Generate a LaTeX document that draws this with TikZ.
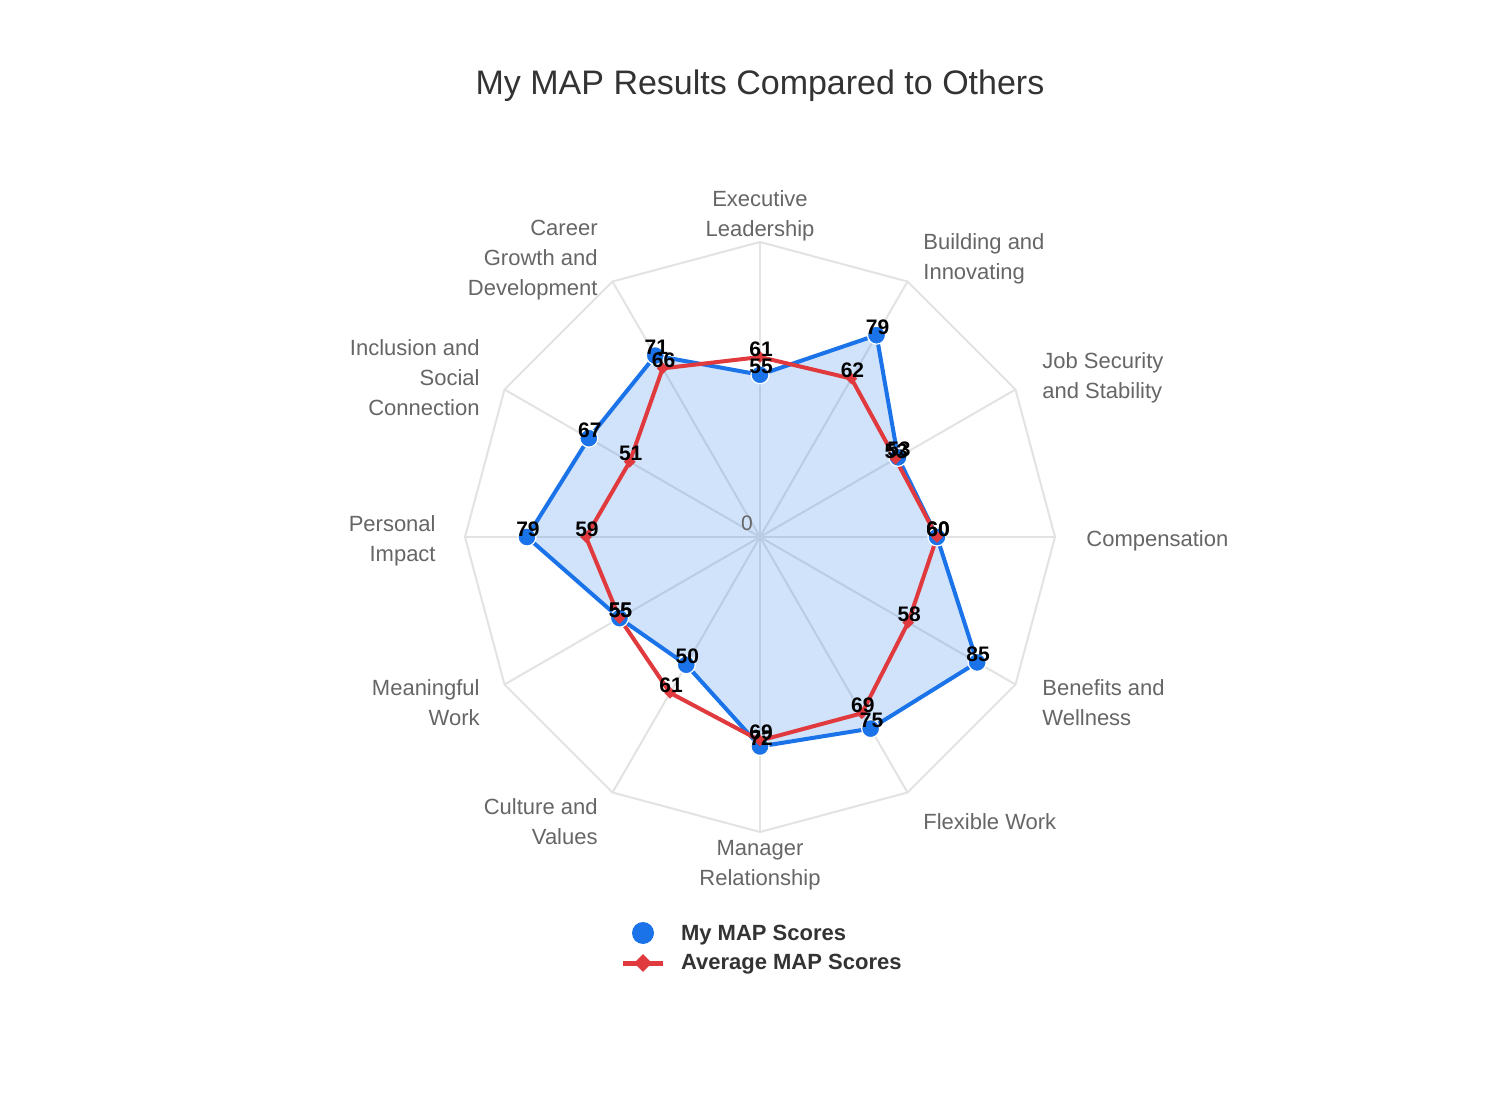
\documentclass[tikz,border=0pt]{standalone}
\usepackage{fontspec}
\setmainfont{Liberation Sans}
\usetikzlibrary{calc,positioning,shapes.geometric}
\definecolor{myblue}{HTML}{1A73E8}
\definecolor{myred}{HTML}{E03A3E}
\definecolor{gridgray}{HTML}{E3E3E3}
\definecolor{labgray}{HTML}{666666}
\tikzset{
  axislab/.style={font=\fontsize{11}{15}\selectfont, text=labgray, inner sep=0pt, align=#1},
  val/.style={font=\fontsize{10.5}{10}\selectfont\bfseries, inner sep=0pt},
  mydot/.style={circle, fill=myblue, draw=white, line width=0.6pt, minimum size=9pt, inner sep=0pt},
  avgdot/.style={diamond, fill=myred, minimum size=6pt, inner sep=0pt}
}
\begin{document}
\begin{tikzpicture}[x=0.5pt,y=0.5pt]
\useasboundingbox (0,-1118) rectangle (1512,0);
\fill[white] (0,-1118) rectangle (1512,0);
\node[font=\fontsize{17}{17}\selectfont, text=black!80] (title) at (760,-86) {My MAP Results Compared to Others};
\coordinate (c) at (760,-537);
% grid
\draw[gridgray, line width=1pt] ($(c)+(90:295)$) \foreach \k in {1,...,11}{ -- ($(c)+(90-30*\k:295)$)} -- cycle;
\foreach \k in {0,...,11}
  \draw[gridgray, line width=1pt] (c) -- ($(c)+(90-30*\k:295)$);
% my scores
\foreach \k/\m in {0/55,1/79,2/54,3/60,4/85,5/75,6/71,7/50,8/55,9/79,10/67,11/71}
  \coordinate (m\k) at ($(c)+(90-30*\k:2.95*\m)$);
\foreach \k/\a in {0/61,1/62,2/53,3/60,4/58,5/69,6/69,7/61,8/55,9/59,10/51,11/66}
  \coordinate (a\k) at ($(c)+(90-30*\k:2.95*\a)$);
\fill[myblue, opacity=0.2] (m0) \foreach \k in {1,...,11}{ -- (m\k)} -- cycle;
\node[text=labgray, font=\fontsize{10.5}{10}\selectfont] (zero) at (747,-523) {0};
\draw[myblue, line width=2pt, line join=round] (m0) \foreach \k in {1,...,11}{ -- (m\k)} -- cycle;
\draw[myred, line width=2pt, line join=round] (a0) \foreach \k in {1,...,11}{ -- (a\k)} -- cycle;
\foreach \k in {0,...,11} \node[mydot] (md\k) at (m\k) {};
\foreach \k in {0,...,11} \node[avgdot] (ad\k) at (a\k) {};
% values
\foreach \k/\m in {0/55,1/79,2/53,3/60,4/85,5/75,6/72,7/50,8/55,9/79,10/67,11/71}
  \node[val] (mv\k) at ($(m\k)+(1,8)$) {\m};
\foreach \k/\a in {0/61,1/62,2/53,3/60,4/58,5/69,6/69,7/61,8/55,9/59,10/51,11/66}
  \node[val] (av\k) at ($(a\k)+(1,8)$) {\a};
% axis labels
\node[axislab=center] (l0) at (760,-216) {Executive\\Leadership};
\node[axislab=left, anchor=west] (l1) at (923,-259) {Building and\\Innovating};
\node[axislab=left, anchor=west] (l2) at (1042,-378) {Job Security\\and Stability};
\node[axislab=left, anchor=west] (l3) at (1086,-541) {Compensation};
\node[axislab=left, anchor=west] (l4) at (1042,-703) {Benefits and\\Wellness};
\node[axislab=left, anchor=west] (l5) at (923,-822) {Flexible Work};
\node[axislab=center] (l6) at (760,-865) {Manager\\Relationship};
\node[axislab=right, anchor=east] (l7) at (598,-822) {Culture and\\Values};
\node[axislab=right, anchor=east] (l8) at (480,-703) {Meaningful\\Work};
\node[axislab=right, anchor=east] (l9) at (436,-541) {Personal\\Impact};
\node[axislab=right, anchor=east] (l10) at (480,-378) {Inclusion and\\Social\\Connection};
\node[axislab=right, anchor=east] (l11) at (598,-260) {Career\\Growth and\\Development};
% legend
\node[circle, fill=myblue, minimum size=11pt, inner sep=0pt] (leg1) at (643,-933) {};
\node[anchor=west, font=\fontsize{11}{11}\selectfont\bfseries, text=black!80] (legt1) at (674,-935) {My MAP Scores};
\coordinate (lr1) at (623,-963);
\coordinate (lr2) at (663,-963);
\draw[myred, line width=2.5pt] (lr1) -- (lr2);
\node[diamond, fill=myred, minimum size=9pt, inner sep=0pt] (leg2) at (643,-963) {};
\node[anchor=west, font=\fontsize{11}{11}\selectfont\bfseries, text=black!80] (legt2) at (674,-964) {Average MAP Scores};
\end{tikzpicture}
\end{document}
